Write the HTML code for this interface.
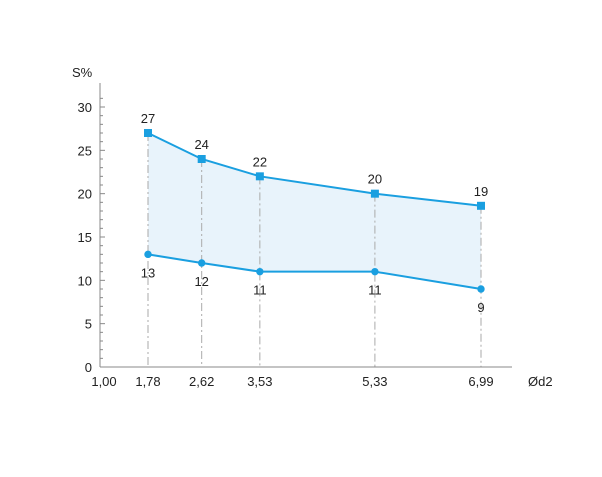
<!DOCTYPE html>
<html><head><meta charset="utf-8"><style>
body{margin:0;background:#fff}
svg text{font-family:"Liberation Sans",Arial,sans-serif;font-size:13px;fill:#222}
</style></head><body>
<svg width="602" height="472">
<g id="g"></g>
</svg>
<script>
const categories=[1.78,2.62,3.53,5.33,6.99];
const catLabels=["1,78","2,62","3,53","5,33","6,99"];
const upper=[27,24,22,20,18.6];
const upperLabels=["27","24","22","20","19"];
const lower=[13,12,11,11,9];
const lowerLabels=["13","12","11","11","9"];
const yTicks=[0,5,10,15,20,25,30];
const NS="http://www.w3.org/2000/svg";
const g=document.getElementById('g');
const X=v=>148+(v-1.78)*(333/5.21);
const Y=v=>367-v*(260/30);
function mk(t,a,p){const e=document.createElementNS(NS,t);for(const k in a)e.setAttribute(k,a[k]);(p||g).appendChild(e);return e;}
const C="#1a9fe0";
// band
let pts=categories.map((c,i)=>X(c)+","+Y(upper[i])).concat(categories.map((c,i)=>X(c)+","+Y(lower[i])).reverse());
let band=mk('polygon',{points:pts.join(' '),fill:"#e8f3fb"});


// drop lines
categories.forEach((c,i)=>{
 let l=mk('line',{x1:X(c),x2:X(c),y1:Y(upper[i]),y2:367,stroke:"#aaa","stroke-width":1,"stroke-dasharray":"8 3 2 3"});
 
 
});
// axes
let ya=mk('line',{x1:100,x2:100,y1:83,y2:367,stroke:"#888","stroke-width":1});


let xa=mk('line',{x1:100,x2:512,y1:367,y2:367,stroke:"#888","stroke-width":1});


for(let v=0;v<=31;v++){
 let t=mk('line',{x1:100,x2:v%5?103:105,y1:Y(v),y2:Y(v),stroke:"#888","stroke-width":1});
 
 
}
yTicks.forEach(v=>{
 let t=mk('text',{x:92,y:Y(v)+5,"text-anchor":"end"});t.textContent=v;
 
 
});
let yt=mk('text',{x:72,y:77});yt.textContent="S%";


let x0=mk('text',{x:104,y:386,"text-anchor":"middle"});x0.textContent="1,00";


categories.forEach((c,i)=>{
 let t=mk('text',{x:X(c),y:386,"text-anchor":"middle"});t.textContent=catLabels[i];
 
 
});
let xt=mk('text',{x:528,y:386});xt.textContent="Ød2";


// lines
let ul=mk('polyline',{points:categories.map((c,i)=>X(c)+","+Y(upper[i])).join(' '),fill:"none",stroke:C,"stroke-width":2});


let ll=mk('polyline',{points:categories.map((c,i)=>X(c)+","+Y(lower[i])).join(' '),fill:"none",stroke:C,"stroke-width":2});


categories.forEach((c,i)=>{
 let s=mk('rect',{x:X(c)-4,y:Y(upper[i])-4,width:8,height:8,fill:C});
 
 
 let ut=mk('text',{x:X(c),y:Y(upper[i])-10,"text-anchor":"middle"});ut.textContent=upperLabels[i];
 
 
 let p=mk('circle',{cx:X(c),cy:Y(lower[i]),r:3.7,fill:C});
 
 
 let lt=mk('text',{x:X(c),y:Y(lower[i])+23,"text-anchor":"middle"});lt.textContent=lowerLabels[i];
 
 
});
</script>
</body></html>
